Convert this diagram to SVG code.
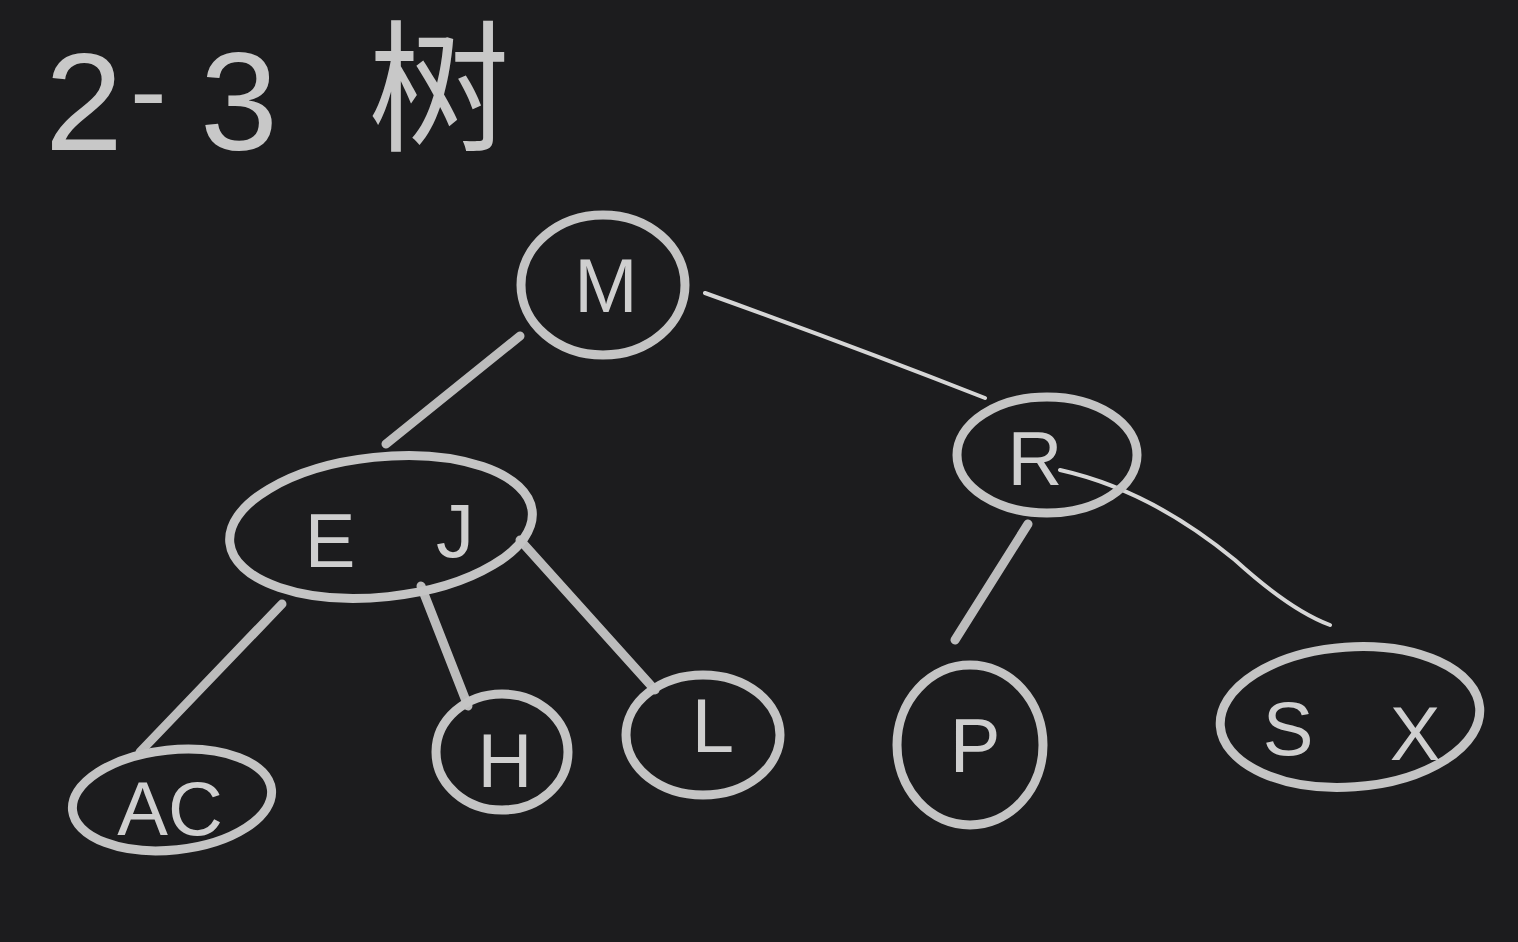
<svg xmlns="http://www.w3.org/2000/svg" width="1518" height="942" viewBox="0 0 1518 942">
<style>
.node{fill:none;stroke:#c4c4c4;stroke-width:9;stroke-linecap:round}
.edge{fill:none;stroke:#bcbcbc;stroke-width:9;stroke-linecap:round}
.thin{fill:none;stroke:#d6d6d6;stroke-width:4;stroke-linecap:round}
.lbl{font-family:"Liberation Sans","Noto Sans",sans-serif;font-size:76px;fill:#cfcfcf;text-anchor:middle;dominant-baseline:central}
.title{font-family:"Liberation Sans","Noto Sans CJK SC",sans-serif;font-size:140px;fill:#c8c8c8}
</style>
<rect width="1518" height="942" fill="#1c1c1e"/>
<text class="title" y="150"><tspan x="45">2</tspan><tspan x="130" y="128" font-size="110">-</tspan><tspan x="200" y="150">3</tspan><tspan x="368" y="140" font-size="142">树</tspan></text>
<g id="connectors">
<line class="edge" x1="520" y1="336" x2="386" y2="444"/>
<path class="thin" d="M705 293 Q850 345 985 398"/>
<line class="edge" x1="282" y1="604" x2="140" y2="752"/>
<line class="edge" x1="421" y1="586" x2="468" y2="706"/>
<line class="edge" x1="520" y1="540" x2="655" y2="690"/>
<line class="edge" x1="1028" y1="524" x2="955" y2="640"/>
<path class="thin" d="M1060 470 Q1150 490 1235 560 Q1290 610 1330 625"/>
</g>
<g id="node-M"><ellipse class="node" cx="603" cy="285" rx="82" ry="70"/><text class="lbl" x="606" y="285">M</text></g>
<g id="node-EJ"><ellipse class="node" cx="381" cy="527" rx="152" ry="70" transform="rotate(-6 381 527)"/><text class="lbl" x="330" y="540">E</text><text class="lbl" x="455" y="530">J</text></g>
<g id="node-R"><ellipse class="node" cx="1047" cy="455" rx="90" ry="58"/><text class="lbl" x="1035" y="458">R</text></g>
<g id="node-AC"><ellipse class="node" cx="172" cy="800" rx="100" ry="50" transform="rotate(-6 172 800)"/><text class="lbl" x="170" y="808">AC</text></g>
<g id="node-H"><ellipse class="node" cx="502" cy="752" rx="66" ry="58"/><text class="lbl" x="505" y="760">H</text></g>
<g id="node-L"><ellipse class="node" cx="703" cy="735" rx="77" ry="60"/><text class="lbl" x="713" y="725">L</text></g>
<g id="node-P"><ellipse class="node" cx="970" cy="745" rx="73" ry="80"/><text class="lbl" x="975" y="745">P</text></g>
<g id="node-SX"><ellipse class="node" cx="1350" cy="717" rx="130" ry="70" transform="rotate(-4 1350 717)"/><text class="lbl" x="1288" y="728">S</text><text class="lbl" x="1415" y="733">X</text></g>
</svg>
